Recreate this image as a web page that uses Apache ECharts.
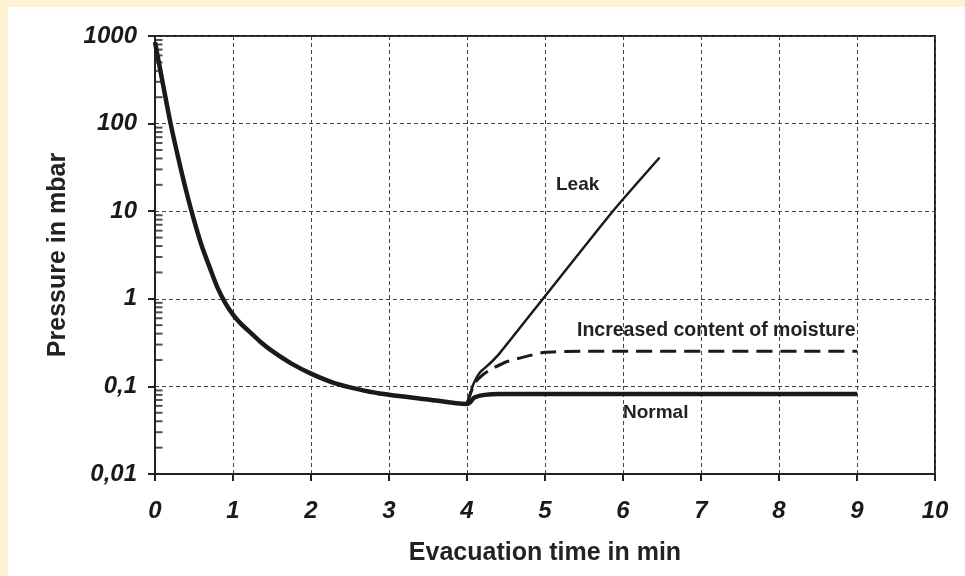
<!DOCTYPE html>
<html>
<head>
<meta charset="utf-8">
<script src="https://cdn.jsdelivr.net/npm/echarts@6/dist/echarts.min.js"></script>
<style>
html,body{margin:0;padding:0;background:#fff;}
#chart{width:965px;height:576px;}
</style>
</head>
<body>
<div id="chart"></div>
<script>
// ---- data ----
const xTicks = [0,1,2,3,4,5,6,7,8,9,10];
const yTickValues = [0.01, 0.1, 1, 10, 100, 1000];
const yTickLabels = ['0,01', '0,1', '1', '10', '100', '1000'];
const minorMultipliers = [2,3,4,5,6,7,8,9];
const minorDecades = [0.01, 0.1, 1, 10, 100];

const normalData = [
  [0,850],[0.1,288],[0.2,100],[0.3,40],[0.4,17],[0.5,7.9],[0.6,4.0],[0.7,2.3],[0.8,1.35],
  [0.9,0.9],[1,0.66],[1.1,0.52],[1.2,0.43],[1.35,0.324],[1.5,0.254],[1.75,0.182],[2,0.14],
  [2.29,0.11],[2.6,0.093],[2.88,0.083],[3.5,0.071],[4,0.063],[4.1,0.075],[4.23,0.08],[4.4,0.082],[9,0.082]
];
const leakData = [
  [4,0.063],[4.08,0.105],[4.16,0.142],[4.3,0.185],[4.42,0.24],[5,1.07],[5.87,10],[6.47,41]
];
const moistureData = [
  [4,0.063],[4.1,0.11],[4.2,0.135],[4.3,0.155],[4.5,0.19],[4.76,0.22],[5,0.245],[5.5,0.252],[9,0.252]
];
const annotations = ['Leak', 'Increased content of moisture', 'Normal'];

// minor tick positions (log axis)
const minorTickData = [];
minorDecades.forEach(d => minorMultipliers.forEach(m => minorTickData.push([0, +(d*m).toPrecision(3)])));

function yLabel(v){
  for (let i=0;i<yTickValues.length;i++){
    if (Math.abs(Math.log10(v) - Math.log10(yTickValues[i])) < 1e-6) return yTickLabels[i];
  }
  return '';
}

const FONT = '"Liberation Sans", Arial, Helvetica, sans-serif';
const chart = echarts.init(document.getElementById('chart'), null, {renderer:'canvas'});
chart.setOption({
  animation: false,
  backgroundColor: '#ffffff',
  grid: {left:155, right:30, top:36, bottom:102, show:true, borderColor:'#222', borderWidth:2, backgroundColor:'transparent'},
  xAxis: {
    type:'value', min:0, max:10, interval:1,
    name:'Evacuation time in min', nameLocation:'middle', nameGap:67,
    nameTextStyle:{fontFamily:FONT, fontWeight:'bold', fontSize:25, color:'#222'},
    axisLine:{lineStyle:{color:'#222', width:2}},
    axisTick:{show:true, length:7, lineStyle:{color:'#222', width:2}},
    axisLabel:{margin:25, fontFamily:FONT, fontWeight:'bold', fontStyle:'italic', fontSize:24, color:'#1a1a1a',
      formatter: v => String(xTicks[Math.round(v)])},
    splitLine:{show:true, lineStyle:{color:'#444', width:1, type:[4,3]}}
  },
  yAxis: {
    type:'log', logBase:10, min:0.01, max:1000,
    name:'Pressure in mbar', nameLocation:'middle', nameGap:84, nameRotate:90,
    nameTextStyle:{fontFamily:FONT, fontWeight:'bold', fontSize:25, color:'#222'},
    axisLine:{show:true, lineStyle:{color:'#222', width:2}},
    axisTick:{show:true, length:7, lineStyle:{color:'#222', width:2}},
    axisLabel:{margin:18, fontFamily:FONT, fontWeight:'bold', fontStyle:'italic', fontSize:24, color:'#1a1a1a',
      formatter: yLabel},
    splitLine:{show:true, lineStyle:{color:'#444', width:1, type:[4,3]}}
  },
  series: [
    {type:'line', name:'Normal', data:normalData, showSymbol:false, smooth:0.3,
      lineStyle:{color:'#1a1a1a', width:4.5}, z:5},
    {type:'line', name:'Leak', data:leakData, showSymbol:false, smooth:0.2,
      lineStyle:{color:'#1a1a1a', width:2.5}, z:4},
    {type:'line', name:'Moisture', data:moistureData, showSymbol:false, smooth:0.2,
      lineStyle:{color:'#1a1a1a', width:3, type:[16,8]}, z:4},
    {type:'scatter', data:minorTickData, symbol:'rect', symbolSize:[7,2], symbolOffset:[4,0],
      itemStyle:{color:'#222'}, silent:true, z:6}
  ],
  graphic: [
    {type:'rect', shape:{x:0,y:0,width:965,height:7}, style:{fill:'#FFF2D3'}, z:100},
    {type:'rect', shape:{x:0,y:0,width:8,height:576}, style:{fill:'#FFF2D3'}, z:100},
    {type:'text', left:556, top:175, style:{text:annotations[0], font:'bold 19px ' + FONT, fill:'#222'}, z:50},
    {type:'text', left:577, top:321, style:{text:annotations[1], font:'bold 19.5px ' + FONT, fill:'#222'}, z:50},
    {type:'text', left:623, top:403, style:{text:annotations[2], font:'bold 19px ' + FONT, fill:'#222'}, z:50}
  ]
});
</script>
</body>
</html>
